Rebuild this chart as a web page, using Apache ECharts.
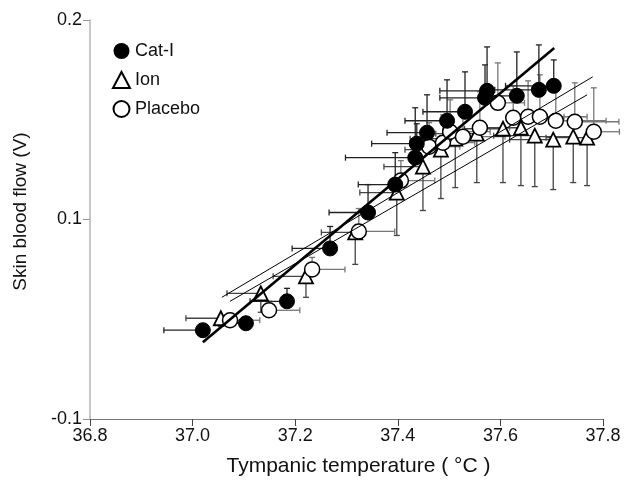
<!DOCTYPE html>
<html>
<head>
<meta charset="utf-8">
<script src="https://cdn.jsdelivr.net/npm/echarts@6/dist/echarts.min.js"></script>
<style>
  html, body { margin: 0; padding: 0; background: #fff; }
  #chart { width: 644px; height: 482px; }
</style>
</head>
<body>
<div id="chart"></div>
<script>
// Cat-I (filled circles): temperature, flow, sd (x to the left, y upward)
const catT = [37.020, 37.104, 37.184, 37.268, 37.342, 37.395, 37.434, 37.437, 37.457, 37.496, 37.531, 37.570, 37.574, 37.632, 37.675, 37.704];
const catV = [0.0445, 0.048, 0.059, 0.0855, 0.1035, 0.1175, 0.131, 0.138, 0.1435, 0.1495, 0.154, 0.161, 0.1645, 0.162, 0.165, 0.167];
const catSdT = [0.076, 0.040, 0.072, 0.074, 0.076, 0.072, 0.136, 0.088, 0.078, 0.082, 0.082, 0.088, 0.092, 0.072, 0.086, 0.094];
const catSdV = [0.0025, 0.002, 0.0065, 0.011, 0.014, 0.016, 0.025, 0.010, 0.019, 0.0205, 0.020, 0.0165, 0.022, 0.022, 0.0225, 0.013];

// Ion (open triangles): sd x to the left, y downward
const ionT = [37.055, 37.133, 37.221, 37.317, 37.398, 37.449, 37.484, 37.512, 37.554, 37.605, 37.640, 37.667, 37.703, 37.742, 37.769];
const ionV = [0.0505, 0.063, 0.0715, 0.0935, 0.1135, 0.1265, 0.135, 0.1405, 0.143, 0.1455, 0.146, 0.142, 0.140, 0.1415, 0.141];
const ionSdT = [0.068, 0.066, 0.064, 0.066, 0.072, 0.076, 0.070, 0.088, 0.080, 0.075, 0.070, 0.080, 0.085, 0.078, 0.080];
const ionSdV = [0.004, 0.0095, 0.0105, 0.016, 0.0215, 0.022, 0.0245, 0.0245, 0.0245, 0.027, 0.029, 0.0255, 0.025, 0.023, 0.024];

// Placebo (open circles): sd x to the right, y upward
const plaT = [37.073, 37.149, 37.233, 37.324, 37.406, 37.461, 37.488, 37.502, 37.527, 37.560, 37.595, 37.625, 37.654, 37.677, 37.708, 37.745, 37.782];
const plaV = [0.0495, 0.0545, 0.075, 0.094, 0.1195, 0.1365, 0.1385, 0.144, 0.1415, 0.146, 0.1585, 0.151, 0.1515, 0.1515, 0.1495, 0.149, 0.144];
const plaSdT = [0.058, 0.060, 0.064, 0.070, 0.066, 0.060, 0.062, 0.078, 0.082, 0.058, 0.052, 0.072, 0.070, 0.092, 0.098, 0.086, 0.050];
const plaSdV = [0.003, 0.0045, 0.006, 0.0115, 0.010, 0.012, 0.014, 0.016, 0.012, 0.018, 0.020, 0.016, 0.018, 0.021, 0.020, 0.0195, 0.022];

// regression lines (end points)
const fitCatT = [37.020, 37.705];
const fitCatV = [0.0385, 0.186];
const fitIonT = [37.057, 37.780];
const fitIonV = [0.061, 0.1715];
const fitPlaT = [37.073, 37.769];
const fitPlaV = [0.059, 0.1625];

const font = "Liberation Sans, Arial, sans-serif";

function pts(t, v) { return t.map((x, i) => [x, v[i]]); }
function bars(t, v, st, sv, dx, dy) {
  return t.map((x, i) => [x, v[i], x + dx * st[i], v[i] + dy * sv[i]]);
}

function errorItem(color) {
  return function (params, api) {
    const p = api.coord([api.value(0), api.value(1)]);
    const px = api.coord([api.value(2), api.value(1)]);
    const py = api.coord([api.value(0), api.value(3)]);
    const style = { stroke: color, lineWidth: 1.3 };
    const c = 3;
    return {
      type: 'group',
      children: [
        { type: 'line', shape: { x1: p[0], y1: p[1], x2: px[0], y2: p[1] }, style },
        { type: 'line', shape: { x1: px[0], y1: p[1] - c, x2: px[0], y2: p[1] + c }, style },
        { type: 'line', shape: { x1: p[0], y1: p[1], x2: p[0], y2: py[1] }, style },
        { type: 'line', shape: { x1: p[0] - c, y1: py[1], x2: p[0] + c, y2: py[1] }, style }
      ]
    };
  };
}

function fitLine(t, v, w) {
  return {
    type: 'line', data: pts(t, v), symbol: 'none', silent: true, z: 5,
    lineStyle: { color: '#000', width: w }
  };
}

let myChart = echarts.init(document.getElementById('chart'));
let option = {
  animation: false,
  backgroundColor: '#fff',
  grid: { left: 90, right: 41, top: 20, bottom: 62 },
  legend: {
    orient: 'vertical', left: 107, top: 37, itemGap: 11,
    itemWidth: 17, itemHeight: 16,
    data: ['Cat-I', 'Ion', 'Placebo'],
    textStyle: { fontFamily: font, fontSize: 18, color: '#111' }
  },
  xAxis: {
    type: 'value', min: 36.8, max: 37.8, interval: 0.2,
    name: 'Tympanic temperature ( °C )', nameLocation: 'middle', nameGap: 37,
    nameTextStyle: { fontFamily: font, fontSize: 21, color: '#111', padding: [0, 0, 0, 24] },
    splitLine: { show: false },
    axisLine: { lineStyle: { color: '#777', width: 1.2 } },
    axisTick: { length: 7, lineStyle: { color: '#444' } },
    axisLabel: { fontFamily: font, fontSize: 18, color: '#111', margin: 8,
      formatter: v => v.toFixed(1) }
  },
  yAxis: {
    type: 'value', min: 0, max: 0.2, interval: 0.1,
    name: 'Skin blood flow (V)', nameLocation: 'middle', nameGap: 60,
    nameTextStyle: { fontFamily: font, fontSize: 19, color: '#111', padding: [0, 0, 0, 16] },
    splitLine: { show: false },
    axisLine: { show: true, lineStyle: { color: '#b5b5b5', width: 1.5 } },
    axisTick: { show: true, length: 7, lineStyle: { color: '#999' } },
    axisLabel: { fontFamily: font, fontSize: 18, color: '#111', margin: 8,
      formatter: v => (v === 0 ? '-0.1' : v.toFixed(1)) }
  },
  series: [
    { type: 'custom', name: 'errPla', renderItem: errorItem('#777'), data: bars(plaT, plaV, plaSdT, plaSdV, 1, 1), z: 1, silent: true },
    { type: 'custom', name: 'errIon', renderItem: errorItem('#444'), data: bars(ionT, ionV, ionSdT, ionSdV, -1, -1), z: 1, silent: true },
    { type: 'custom', name: 'errCat', renderItem: errorItem('#222'), data: bars(catT, catV, catSdT, catSdV, -1, 1), z: 1, silent: true },
    {
      type: 'scatter', name: 'Ion', data: pts(ionT, ionV), symbol: 'triangle', symbolSize: 14, z: 3,
      itemStyle: { color: '#fff', borderColor: '#000', borderWidth: 1.8, opacity: 1 }
    },
    {
      type: 'scatter', name: 'Placebo', data: pts(plaT, plaV), symbol: 'circle', symbolSize: 15, z: 3,
      itemStyle: { color: '#fff', borderColor: '#000', borderWidth: 1.5, opacity: 1 }
    },
    {
      type: 'scatter', name: 'Cat-I', data: pts(catT, catV), symbol: 'circle', symbolSize: 15, z: 4,
      itemStyle: { color: '#000', borderColor: '#000', opacity: 1 }
    },
    fitLine(fitCatT, fitCatV, 2.6),
    fitLine(fitIonT, fitIonV, 1),
    fitLine(fitPlaT, fitPlaV, 1)
  ]
};
myChart.setOption(option);
</script>
</body>
</html>
